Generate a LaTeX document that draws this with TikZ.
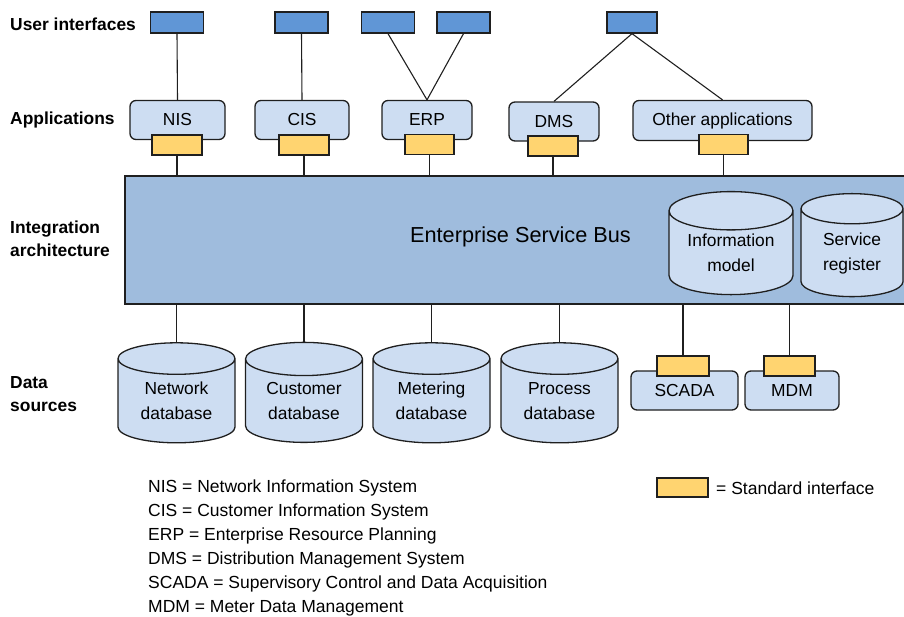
\documentclass[tikz,border=0pt]{standalone}
\usepackage{fontspec}
\setmainfont{Liberation Sans}
\usetikzlibrary{shapes.geometric}

\definecolor{uiblue}{HTML}{6096D6}
\definecolor{applight}{HTML}{CDDDF2}
\definecolor{busblue}{HTML}{9FBCDD}
\definecolor{ifyellow}{HTML}{FFD470}
\definecolor{edgegray}{HTML}{1F1F1F}

\tikzset{
  uibox/.style={draw=edgegray, line width=1.3pt, fill=uiblue, minimum width=53pt, minimum height=21pt, inner sep=0pt},
  appbox/.style={draw=edgegray, line width=1.3pt, fill=applight, rounded corners=6pt, minimum height=39pt, inner sep=0pt, font=\fontsize{17.4}{20}\selectfont},
  iface/.style={draw=edgegray, line width=1.3pt, fill=ifyellow, minimum width=50pt, minimum height=20pt, inner sep=0pt},
  dbase/.style={cylinder, shape border rotate=90, aspect=0.44, draw=edgegray, line width=1.3pt, fill=applight, minimum width=117pt, minimum height=100pt, inner sep=0pt, align=center, font=\fontsize{17.4}{25}\selectfont},
  layer/.style={anchor=west, align=left, inner sep=0pt, font=\bfseries\fontsize{17.4}{23}\selectfont},
  legend/.style={anchor=west, inner sep=0pt, font=\fontsize{17.5}{20}\selectfont},
  wire/.style={draw=edgegray, line width=1.1pt}
}

\begin{document}
\begin{tikzpicture}[x=1pt, y=-1pt]
\useasboundingbox (0,0) rectangle (904,616);

% Layer names on the left
\node[layer] (lui) at (10,24) {User interfaces};
\node[layer] (lapp) at (10,120) {Applications};
\node[layer] (lint) at (10,238.5) {Integration\\architecture};
\node[layer] (ldata) at (10,394) {Data\\sources};

% User interfaces
\node[uibox] (ui1) at (177,22.5) {};
\node[uibox] (ui2) at (301.5,22.5) {};
\node[uibox] (ui3) at (388,22.5) {};
\node[uibox] (ui4) at (463.5,22.5) {};
\node[uibox, minimum width=50pt] (ui5) at (632,22.5) {};

% Applications and their interfaces
\node[appbox, minimum width=95pt] (nis) at (177.5,120) {NIS};
\node[appbox, minimum width=94pt] (cis) at (302,120) {CIS};
\node[appbox, minimum width=90pt] (erp) at (427,120) {ERP};
\node[appbox, minimum width=90pt] (dms) at (554,121.5) {DMS};
\node[appbox, minimum width=179pt, minimum height=40pt] (other) at (722.5,120.5) {Other applications};
\node[iface] (nisif) at (177,145) {};
\node[iface] (cisif) at (304,145) {};
\node[iface, minimum width=49pt] (erpif) at (429.5,144.5) {};
\node[iface] (dmsif) at (553,146) {};
\node[iface, minimum width=49pt] (otherif) at (723.5,144.5) {};

% The service bus
\node[draw=edgegray, line width=1.3pt, fill=busblue, minimum width=781pt, minimum height=128pt, inner sep=0pt] (bus) at (515.5,240) {};
\node[font=\fontsize{21.7}{24}\selectfont] (esb) at (520.5,237) {Enterprise Service Bus};
\node[dbase, minimum width=124pt, minimum height=103pt] (infomod) at (731,253) {Information\\model};
\node[dbase, aspect=0.52, minimum width=102pt, minimum height=103pt] (servreg) at (852,253) {Service\\register};

% Data sources
\node[dbase] (netdb) at (176.5,401) {Network\\database};
\node[dbase] (custdb) at (304,401) {Customer\\database};
\node[dbase] (meterdb) at (431.5,401) {Metering\\database};
\node[dbase] (procdb) at (559.5,401) {Process\\database};
\node[appbox, minimum width=107pt] (scada) at (684.5,390.5) {SCADA};
\node[appbox, minimum width=94pt] (mdm) at (792,390.5) {MDM};
\node[iface, minimum width=52pt] (scadaif) at (683,366) {};
\node[iface, minimum width=51pt] (mdmif) at (789.5,366) {};

% Draw the connections
\draw[wire] (ui1.south) -- (nis.north);
\draw[wire] (ui2.south) -- (cis.north);
\draw[wire] (ui3.south) -- (erp.north);
\draw[wire] (ui4.south) -- (erp.north);
\draw[wire] (ui5.south) -- (dms.north);
\draw[wire] (ui5.south) -- (other.north);
\draw[wire] (nisif.south) -- (nisif.south |- bus.north);
\draw[wire] (cisif.south) -- (cisif.south |- bus.north);
\draw[wire] (erpif.south) -- (erpif.south |- bus.north);
\draw[wire] (dmsif.south) -- (dmsif.south |- bus.north);
\draw[wire] (otherif.south) -- (otherif.south |- bus.north);
\draw[wire] (netdb.north |- bus.south) -- (netdb.north);
\draw[wire] (custdb.north |- bus.south) -- (custdb.north);
\draw[wire] (meterdb.north |- bus.south) -- (meterdb.north);
\draw[wire] (procdb.north |- bus.south) -- (procdb.north);
\draw[wire] (scadaif.north |- bus.south) -- (scadaif.north);
\draw[wire] (mdmif.north |- bus.south) -- (mdmif.north);

% Legend
\node[legend] (abbr1) at (148,488) {NIS = Network Information System};
\node[legend] (abbr2) at (148,511.5) {CIS = Customer Information System};
\node[legend] (abbr3) at (148,535.5) {ERP = Enterprise Resource Planning};
\node[legend] (abbr4) at (148,560) {DMS = Distribution Management System};
\node[legend] (abbr5) at (148,584) {SCADA = Supervisory Control and Data Acquisition};
\node[legend] (abbr6) at (148,608) {MDM = Meter Data Management};
\node[iface, minimum width=51pt, minimum height=19pt] (keyif) at (682.5,487.5) {};
\node[legend] (keytext) at (716,488) {= Standard interface};

\end{tikzpicture}
\end{document}
